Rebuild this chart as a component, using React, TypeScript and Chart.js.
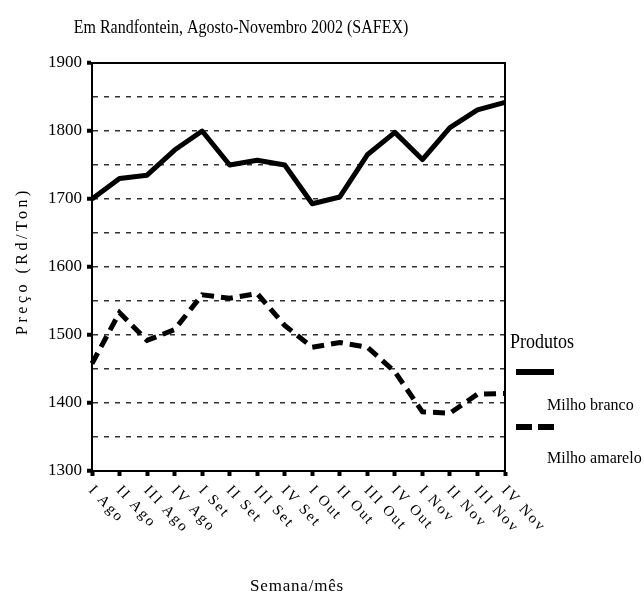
import React, { useEffect, useRef } from 'react';
import { Chart, registerables } from 'chart.js';

Chart.register(...registerables);

const chartTitle = 'Em Randfontein, Agosto-Novembro 2002 (SAFEX)';
const xTitle = 'Semana/mês';
const yTitle = 'Preço (Rd/Ton)';
const legendTitle = 'Produtos';

const categories = [
  'I Ago', 'II Ago', 'III Ago', 'IV Ago',
  'I Set', 'II Set', 'III Set', 'IV Set',
  'I Out', 'II Out', 'III Out', 'IV Out',
  'I Nov', 'II Nov', 'III Nov', 'IV Nov',
];

const milhoBranco = [1700, 1730, 1735, 1772, 1800, 1750, 1757, 1750, 1693, 1703, 1765, 1798, 1758, 1805, 1831, 1842];
const milhoAmarelo = [1458, 1533, 1492, 1508, 1559, 1554, 1561, 1514, 1482, 1489, 1482, 1446, 1387, 1385, 1413, 1414];

const seriesNames = ['Milho branco', 'Milho amarelo'];
const yTickLabels = [1300, 1400, 1500, 1600, 1700, 1800, 1900];

const FONT = '"Liberation Serif", "Times New Roman", serif';

const textPlugin = {
  id: 'customText',
  afterDraw(chart: any) {
    const { ctx, chartArea, scales } = chart;
    const xs = scales.x;
    ctx.save();
    // frame (top & right)
    ctx.strokeStyle = '#000';
    ctx.lineWidth = 2;
    ctx.setLineDash([]);
    ctx.beginPath();
    ctx.moveTo(chartArea.left, chartArea.top);
    ctx.lineTo(chartArea.right, chartArea.top);
    ctx.lineTo(chartArea.right, chartArea.bottom);
    ctx.stroke();

    ctx.fillStyle = '#000';
    // title (slightly tall letterforms)
    ctx.save();
    ctx.font = `16px ${FONT}`;
    ctx.textAlign = 'center';
    ctx.textBaseline = 'alphabetic';
    ctx.translate(241, 33);
    ctx.scale(1, 1.22);
    ctx.fillText(chartTitle, 0, 0);
    ctx.restore();

    // x tick labels rotated
    ctx.font = `15px ${FONT}`;
    (ctx as any).letterSpacing = '2px';
    categories.forEach((c, i) => {
      const px = xs.getPixelForTick(i);
      ctx.save();
      ctx.translate(px - 1, chartArea.bottom + 17);
      ctx.rotate((47 * Math.PI) / 180);
      ctx.textAlign = 'left';
      ctx.textBaseline = 'middle';
      ctx.fillText(c, 0, 0);
      ctx.restore();
    });

    // x title
    ctx.font = `17px ${FONT}`;
    (ctx as any).letterSpacing = '0.8px';
    ctx.textAlign = 'center';
    ctx.textBaseline = 'alphabetic';
    ctx.fillText(xTitle, 297, 591);

    // y title
    ctx.save();
    ctx.font = `16px ${FONT}`;
    (ctx as any).letterSpacing = '3.5px';
    ctx.translate(23, 261);
    ctx.rotate(-Math.PI / 2);
    ctx.textAlign = 'center';
    ctx.textBaseline = 'middle';
    ctx.fillText(yTitle, 0, 0);
    ctx.restore();

    // legend
    (ctx as any).letterSpacing = '0px';
    ctx.textAlign = 'left';
    ctx.textBaseline = 'alphabetic';
    ctx.save();
    ctx.font = `18px ${FONT}`;
    ctx.translate(510, 348);
    ctx.scale(1, 1.15);
    ctx.fillText(legendTitle, 0, 0);
    ctx.restore();
    const ds = chart.data.datasets;
    const sampleY = [372, 427];
    const textY = [410, 463];
    ds.forEach((d: any, i: number) => {
      ctx.strokeStyle = d.borderColor;
      ctx.lineWidth = d.borderWidth + 1;
      ctx.setLineDash(d.borderDash ? [16, 6] : []);
      ctx.beginPath();
      ctx.moveTo(516, sampleY[i]);
      ctx.lineTo(554, sampleY[i]);
      ctx.stroke();
      ctx.setLineDash([]);
      ctx.font = `16px ${FONT}`;
      ctx.fillText(d.label, 547, textY[i]);
    });
    ctx.restore();
  },
};

export default function App() {
  const canvasRef = useRef<HTMLCanvasElement | null>(null);

  useEffect(() => {
    document.body.style.margin = '0';
    const canvas = canvasRef.current;
    if (!canvas) return;
    const chart = new Chart(canvas, {
      type: 'line',
      data: {
        labels: categories,
        datasets: [
          {
            label: seriesNames[0],
            data: milhoBranco,
            borderColor: '#000',
            borderWidth: 5,
            pointRadius: 0,
            tension: 0,
            borderJoinStyle: 'round',
            fill: false,
          },
          {
            label: seriesNames[1],
            data: milhoAmarelo,
            borderColor: '#000',
            borderWidth: 5,
            borderDash: [12, 7],
            pointRadius: 0,
            tension: 0,
            fill: false,
          },
        ],
      },
      options: {
        responsive: false,
        animation: false,
        layout: { padding: { top: 63, right: 139, bottom: 0, left: 0 } },
        plugins: {
          legend: { display: false },
          title: { display: false },
          tooltip: { enabled: false },
        },
        scales: {
          x: {
            type: 'category',
            offset: false,
            ticks: { display: false },
            grid: {
              display: true,
              drawOnChartArea: false,
              drawTicks: true,
              tickLength: 5,
              tickWidth: 4,
              tickColor: '#000',
            },
            border: { display: true, color: '#000', width: 2 },
            afterFit: (scale: any) => {
              scale.height = 122;
            },
          },
          y: {
            type: 'linear',
            min: 1300,
            max: 1900,
            ticks: {
              stepSize: 50,
              autoSkip: false,
              padding: 5,
              color: '#000',
              font: { family: FONT, size: 17 },
              callback: (v: any) => (yTickLabels.includes(Number(v)) ? String(v) : ''),
            },
            grid: {
              drawOnChartArea: true,
              color: (c: any) => (c.tick && c.tick.value === 1300 ? 'rgba(0,0,0,0)' : '#333'),
              lineWidth: 1.5,
              drawTicks: true,
              tickLength: 5,
              tickWidth: 4,
              tickColor: (c: any) => (c.tick && yTickLabels.includes(c.tick.value) ? '#000' : 'rgba(0,0,0,0)'),
            },
            border: { display: true, color: '#000', width: 2, dash: [5, 6] },
            afterFit: (scale: any) => {
              scale.width = 92;
            },
          },
        },
      },
      plugins: [textPlugin],
    } as any);
    return () => chart.destroy();
  }, []);

  return <canvas ref={canvasRef} width={644} height={593} style={{ display: 'block' }} />;
}
